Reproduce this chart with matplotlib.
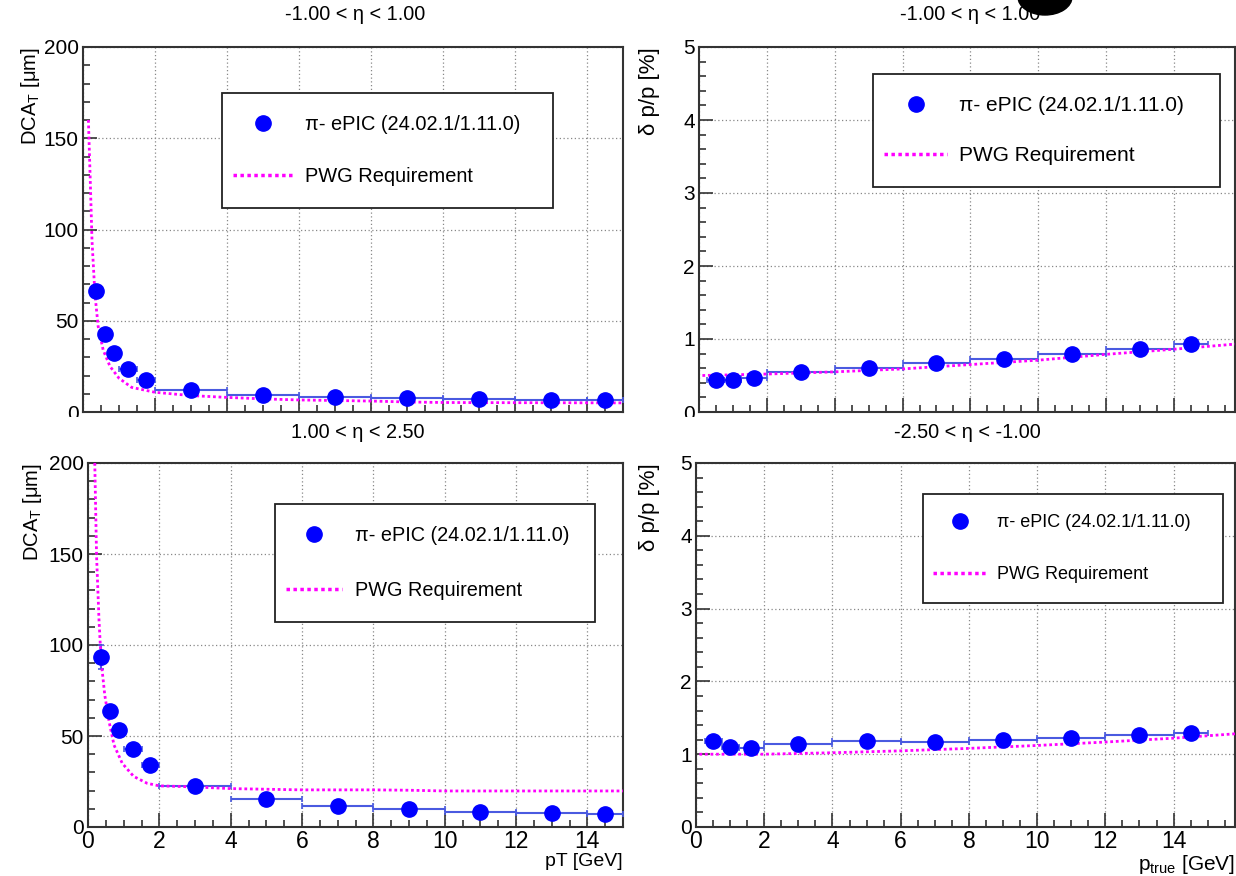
import numpy as np
import matplotlib.pyplot as plt
from matplotlib.lines import Line2D
from matplotlib.patches import Rectangle, Ellipse
from matplotlib.ticker import MultipleLocator

plt.rcParams['font.family'] = ['Liberation Sans', 'DejaVu Sans']
plt.rcParams['mathtext.fontset'] = 'custom'
plt.rcParams['mathtext.rm'] = 'Liberation Sans'
plt.rcParams['mathtext.it'] = 'Liberation Sans:italic'

W, H = 1236, 876

# DCA_T vs pT (left column)
pt_bins = [0.375, 0.625, 0.875, 1.25, 1.75, 3, 5, 7, 9, 11, 13, 14.5]
pt_half = [0.125, 0.125, 0.125, 0.25, 0.25, 1, 1, 1, 1, 1, 1, 0.5]
dca_central = [66.3, 42.7, 32.1, 23.8, 17.6, 12.2, 9.1, 8.3, 7.6, 7.2, 6.7, 6.6]
dca_central_err = [2.5, 1.5, 1.0, 0.8, 0.6, 0.4, 0.3, 0.3, 0.3, 0.3, 0.3, 0.3]
dca_fwd = [93.3, 64.0, 53.2, 42.6, 34.2, 22.6, 15.4, 11.8, 9.7, 8.1, 7.7, 7.2]
dca_fwd_err = [6.5, 2.5, 2.0, 1.5, 1.2, 0.6, 0.4, 0.3, 0.3, 0.3, 0.3, 0.3]

# PWG requirement curves for DCA_T
req_pt_central = [0.15, 0.2, 0.25, 0.33, 0.42, 0.56, 0.75, 1.0, 1.35, 2.0, 3.0, 4.0, 5.0, 6.0, 8.0, 9.0, 10.0, 12.0, 15.0]
req_dca_central = [160, 128, 94, 65, 47, 34, 25, 18.5, 13.5, 10.8, 9.0, 8.0, 7.2, 6.6, 6.0, 5.5, 5.2, 5.1, 5.0]
req_pt_fwd = [0.19, 0.24, 0.31, 0.37, 0.47, 0.59, 0.73, 0.96, 1.28, 1.66, 2.0, 3.0, 4.0, 6.0, 8.0, 9.0, 10.0, 12.0, 15.0]
req_dca_fwd = [200, 149, 113, 91, 72.5, 58, 45, 35, 27.8, 24, 22.6, 22.0, 21.1, 20.4, 20.4, 20.2, 19.8, 19.8, 19.8]

# momentum resolution vs p (right column)
p_bins = [0.5, 1.0, 1.625, 3, 5, 7, 9, 11, 13, 14.5]
p_half = [0.25, 0.25, 0.375, 1, 1, 1, 1, 1, 1, 0.5]
res_central = [0.445, 0.445, 0.465, 0.55, 0.60, 0.673, 0.73, 0.795, 0.862, 0.925]
res_bwd = [1.176, 1.104, 1.088, 1.146, 1.186, 1.172, 1.198, 1.216, 1.268, 1.296]
res_err = [0.01] * 10

req_p = [0.1, 2, 4, 6, 8, 10, 12, 14, 15.8]
req_res_central = [0.5, 0.52, 0.55, 0.59, 0.65, 0.71, 0.79, 0.86, 0.93]
req_res_bwd = [1.0, 1.0, 1.02, 1.046, 1.08, 1.12, 1.167, 1.22, 1.28]

BLUE = '#0000ff'
ERRC = '#4a5ae0'
MAG = '#ff00ff'
LABEL = 'π- ePIC (24.02.1/1.11.0)'

fig = plt.figure(figsize=(W / 100, H / 100), dpi=100)


def box(l, t, r, b):
    return [l / W, 1 - b / H, (r - l) / W, (b - t) / H]


def white_pad(l, t, r, b, z):
    fig.add_artist(Rectangle((l / W, 1 - b / H), (r - l) / W, (b - t) / H,
                             transform=fig.transFigure, facecolor='white',
                             edgecolor='none', zorder=z))


def panel(rect, z, x, xe, y, ye, rx, ry, xmax, ylim, ymaj, ymin,
          ylabel, ylab_fs, ylab_x, xlabel, leg, leg_fs, leg_sp, leg_hl, leg_tp):
    ax = fig.add_axes(box(*rect))
    ax.set_zorder(z)
    ax.errorbar(x, y, xerr=xe, yerr=ye, fmt='none', ecolor=ERRC,
                elinewidth=1.5, capsize=2.5, capthick=1.2, zorder=3)
    ax.plot(x, y, 'o', color=BLUE, ms=11, zorder=4)
    ax.plot(rx, ry, color=MAG, ls=(0, (1, 1)), lw=2, zorder=3.5)
    ax.set_xlim(0, xmax)
    ax.set_ylim(*ylim)
    ax.xaxis.set_major_locator(MultipleLocator(2))
    ax.xaxis.set_minor_locator(MultipleLocator(0.5))
    ax.yaxis.set_major_locator(MultipleLocator(ymaj))
    ax.yaxis.set_minor_locator(MultipleLocator(ymin))
    ax.grid(True, which='major', color='#888888', ls=(0, (1, 2)), lw=0.9)
    ax.set_axisbelow(True)
    ax.tick_params(which='both', direction='in', top=False, right=False,
                   color='#333333', width=1.2)
    ax.tick_params(which='major', length=10)
    ax.tick_params(which='minor', length=5)
    ax.tick_params(axis='y', labelsize=15, pad=3)
    ax.tick_params(axis='x', labelsize=16.5, pad=2)
    for s in ax.spines.values():
        s.set_linewidth(1.5)
        s.set_color('#333333')
    ax.set_ylabel(ylabel, fontsize=ylab_fs, loc='top')
    ax.yaxis.set_label_coords(ylab_x, 1.0)
    if xlabel:
        ax.set_xlabel(xlabel[0], fontsize=xlabel[1], loc='right')
        ax.xaxis.set_label_coords(1.0, -0.072)
    else:
        ax.tick_params(axis='x', labelbottom=False)
    # legend box
    l, t, r, b = leg
    ax.add_patch(Rectangle((l / W, 1 - b / H), (r - l) / W, (b - t) / H,
                           transform=fig.transFigure, facecolor='white',
                           edgecolor='#222222', lw=1.3, zorder=5))
    handles = [Line2D([], [], marker='o', ls='none', color=BLUE, ms=11),
               Line2D([], [], color=MAG, ls=(0, (1, 1)), lw=2.5)]
    lg = ax.legend(handles, [LABEL, 'PWG Requirement'], loc='center left',
                   bbox_to_anchor=box(l, t, r, b), bbox_transform=fig.transFigure,
                   frameon=False, borderaxespad=0, borderpad=0.55,
                   fontsize=leg_fs, labelspacing=leg_sp, handlelength=leg_hl,
                   handletextpad=leg_tp)
    lg.set_zorder(6)
    return ax


panel((83, 47, 623, 412), 0, pt_bins, pt_half, dca_central, dca_central_err,
      req_pt_central, req_dca_central, 15, (0, 200), 50, 10,
      r'DCA$_{\mathrm{T}}$ [μm]', 14.5, -0.076, None,
      (222, 93, 553, 208), 14.4, 1.68, 3.0, 0.6)

white_pad(625, 0, W, 417, 1)
panel((699, 47, 1235, 412), 2, p_bins, p_half, res_central, res_err,
      req_p, req_res_central, 15.8, (0, 5), 1, 0.2,
      'δ p/p [%]', 16, -0.073, None,
      (873, 74, 1220, 187), 15, 1.48, 3.0, 0.6)

white_pad(0, 417, 625, H, 3)
panel((88, 463, 623, 827), 4, pt_bins, pt_half, dca_fwd, dca_fwd_err,
      req_pt_fwd, req_dca_fwd, 15, (0, 200), 50, 10,
      r'DCA$_{\mathrm{T}}$ [μm]', 14.5, -0.082, ('pT [GeV]', 14),
      (275, 504, 595, 622), 14.3, 1.85, 2.8, 0.7)

white_pad(625, 417, W, H, 5)
panel((696, 463, 1235, 827), 6, p_bins, p_half, res_bwd, res_err,
      req_p, req_res_bwd, 15.8, (0, 5), 1, 0.2,
      'δ p/p [%]', 16, -0.067, (r'p$_{\mathrm{true}}$ [GeV]', 15),
      (923, 494, 1223, 603), 13, 1.94, 3.05, 0.5)

# pad titles
titles = ['-1.00 < η < 1.00', '-1.00 < η < 1.00', '1.00 < η < 2.50', '-2.50 < η < -1.00']
title_pos = [(355, 15), (970, 15), (358, 432), (967, 432)]
for txt, (tx, ty) in zip(titles, title_pos):
    fig.text(tx / W, 1 - ty / H, txt, ha='center', va='center', fontsize=14.3, zorder=8)

# dark blob cut by the top edge
fig.add_artist(Ellipse((1045 / W, 1 + 3 / H), 54 / W, 36 / H,
                       transform=fig.transFigure, color='black', zorder=7))

fig.savefig('out.png', dpi=100)
